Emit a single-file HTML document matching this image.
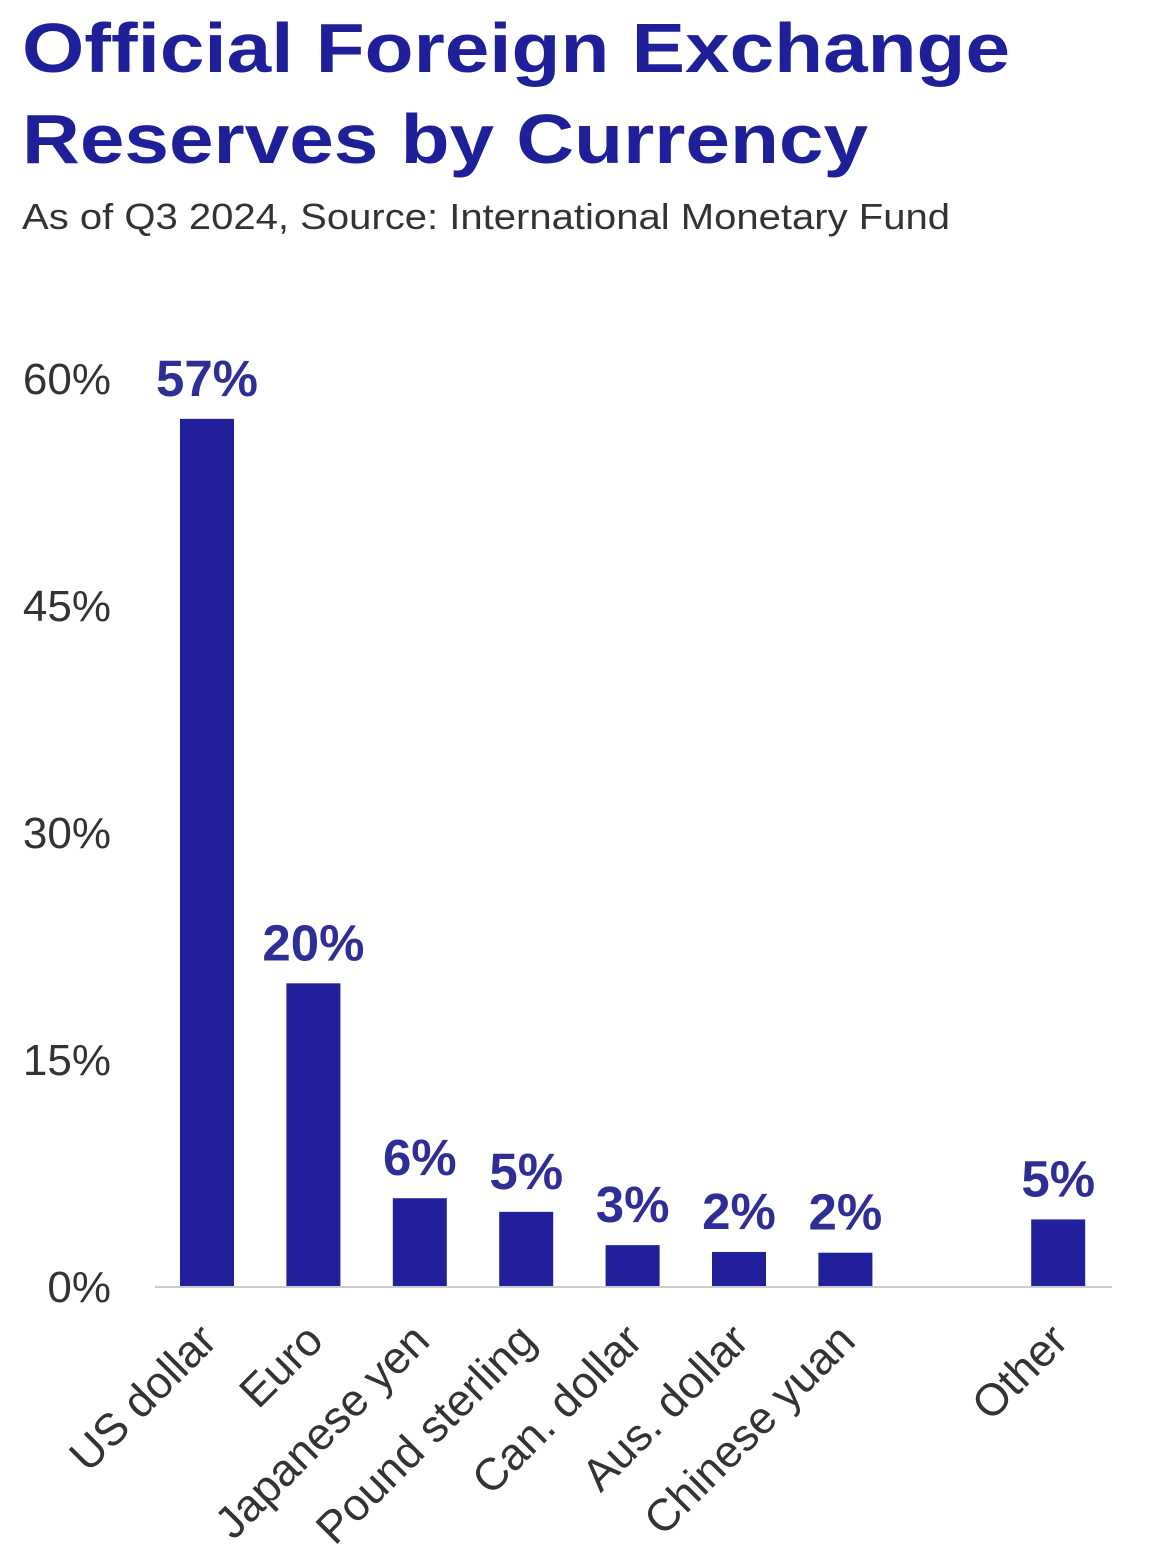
<!DOCTYPE html>
<html><head><meta charset="utf-8">
<style>
html,body{margin:0;padding:0;background:#fff;}
svg{display:block;font-family:"Liberation Sans",Arial,sans-serif;}
</style></head>
<body>
<svg id="chart" width="1149" height="1568" viewBox="0 0 1149 1568">
  <text x="22" y="72" font-size="70" font-weight="bold" fill="#1f1f99" textLength="988" lengthAdjust="spacingAndGlyphs">Official Foreign Exchange</text>
  <text x="22" y="163" font-size="70" font-weight="bold" fill="#1f1f99" textLength="846" lengthAdjust="spacingAndGlyphs">Reserves by Currency</text>
  <text x="22" y="229" font-size="36" fill="#333" textLength="928" lengthAdjust="spacingAndGlyphs">As of Q3 2024, Source: International Monetary Fund</text>
  <g id="yaxis"></g>
  <g id="bars"></g>
  <line x1="155" y1="1287" x2="1112" y2="1287" stroke="#ccc" stroke-width="2"/>
  <g id="xaxis"></g>
</svg>
<script>
const categories = ["US dollar","Euro","Japanese yen","Pound sterling","Can. dollar","Aus. dollar","Chinese yuan","Other"];
const values = [57.3, 20.0, 5.8, 4.9, 2.7, 2.25, 2.2, 4.4];
const valueLabels = ["57%","20%","6%","5%","3%","2%","2%","5%"];
const slots = [0,1,2,3,4,5,6,8];
const yTicks = [0,15,30,45,60];
const yTickLabels = ["0%","15%","30%","45%","60%"];

const NS = "http://www.w3.org/2000/svg";
function y(v){ return 1286 - v * (227/15); }
function xc(s){ return 207 + s * 106.4; }
const barW = 54;

const yg = document.getElementById('yaxis');
yTicks.forEach((t,i)=>{
  const tx = document.createElementNS(NS,'text');
  
  
  tx.setAttribute('x', 111);
  tx.setAttribute('y', y(t) + 16);
  tx.setAttribute('text-anchor','end');
  tx.setAttribute('font-size','44');
  tx.setAttribute('fill','#333');
  tx.textContent = yTickLabels[i];
  yg.appendChild(tx);
});

const bg = document.getElementById('bars');
const xg = document.getElementById('xaxis');
categories.forEach((c,i)=>{
  const cx = xc(slots[i]);
  const r = document.createElementNS(NS,'rect');
  
  
  r.setAttribute('x', cx - barW/2);
  r.setAttribute('y', y(values[i]));
  r.setAttribute('width', barW);
  r.setAttribute('height', y(0) - y(values[i]));
  r.setAttribute('fill', '#211f99');
  bg.appendChild(r);

  const vl = document.createElementNS(NS,'text');
  
  
  vl.setAttribute('x', cx);
  vl.setAttribute('y', y(values[i]) - 23);
  vl.setAttribute('text-anchor','middle');
  vl.setAttribute('font-size','51');
  vl.setAttribute('font-weight','bold');
  vl.setAttribute('fill','#2e2e96');
  vl.textContent = valueLabels[i];
  bg.appendChild(vl);

  const xl = document.createElementNS(NS,'text');
  
  
  const ax = cx + 12, ay = 1343;
  xl.setAttribute('x', ax);
  xl.setAttribute('y', ay);
  xl.setAttribute('transform', `rotate(-45 ${ax} ${ay})`);
  xl.setAttribute('text-anchor','end');
  xl.setAttribute('font-size','45');
  xl.setAttribute('fill','#333');
  xl.textContent = c;
  xg.appendChild(xl);
});
</script>
</body></html>
